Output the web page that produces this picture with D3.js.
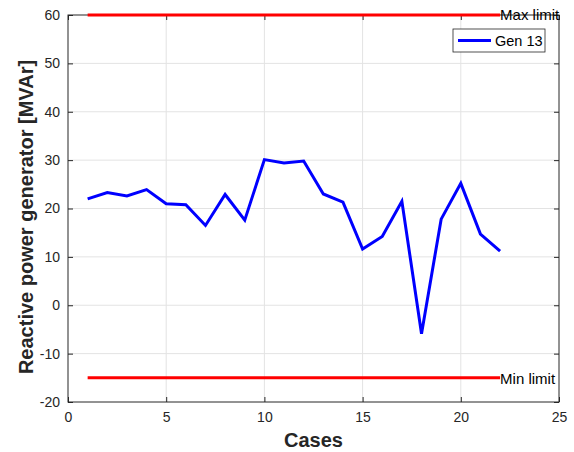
<!DOCTYPE html>
<html><head><meta charset="utf-8">
<script src="https://cdn.jsdelivr.net/npm/d3@7"></script>
<style>body{margin:0;background:#fff}svg{display:block}text{font-family:Arial,"Liberation Sans",sans-serif}</style>
</head><body><svg id="c" width="574" height="452"></svg>
<script>
const cases = d3.range(1, 23);
const gen13 = [22.0, 23.3, 22.6, 23.9, 21.0, 20.8, 16.5, 22.9, 17.6, 30.1, 29.4, 29.8, 23.0, 21.3, 11.6, 14.2, 21.5, -5.9, 17.8, 25.2, 14.7, 11.2];
const maxLimit = 60, minLimit = -15;
const xTicks = [0, 5, 10, 15, 20, 25];
const yTicks = [-20, -10, 0, 10, 20, 30, 40, 50, 60];
const seriesName = "Gen 13";

const svg = d3.select("#c");
const L = 68, R = 559, T = 15, B = 402;
const x = d3.scaleLinear().domain([0, 25]).range([L, R]);
const y = d3.scaleLinear().domain([-20, 60]).range([B, T]);
const axisCol = "#262626";

// grid
svg.append("g").selectAll("line").data(xTicks.slice(1, -1)).join("line")
  .attr("x1", d => x(d)).attr("x2", d => x(d)).attr("y1", T).attr("y2", B)
  .attr("stroke", "#e3e3e3").attr("stroke-width", 1);
svg.append("g").selectAll("line").data(yTicks.slice(1, -1)).join("line")
  .attr("y1", d => y(d)).attr("y2", d => y(d)).attr("x1", L).attr("x2", R)
  .attr("stroke", "#e3e3e3").attr("stroke-width", 1);

// axes
const fmt = d => String(d);
const ax = (g, axis) => { g.call(axis); g.select(".domain").remove();
  g.selectAll("line").attr("stroke", axisCol);
  g.selectAll("text").attr("fill", axisCol).attr("font-size", 14); };
svg.append("g").attr("transform", `translate(0,${B})`)
  .call(g => ax(g, d3.axisBottom(x).tickValues(xTicks).tickSize(-5).tickPadding(10).tickFormat(fmt)));
svg.append("g").attr("transform", `translate(0,${T})`)
  .call(g => ax(g, d3.axisTop(x).tickValues(xTicks).tickSize(-5).tickFormat("")));
svg.append("g").attr("transform", `translate(${L},0)`)
  .call(g => ax(g, d3.axisLeft(y).tickValues(yTicks).tickSize(-5).tickPadding(8).tickFormat(fmt)));
svg.append("g").attr("transform", `translate(${R},0)`)
  .call(g => ax(g, d3.axisRight(y).tickValues(yTicks).tickSize(-5).tickFormat("")));
svg.append("rect").attr("x", L).attr("y", T).attr("width", R - L).attr("height", B - T)
  .attr("fill", "none").attr("stroke", axisCol).attr("stroke-width", 1);

// limits
[maxLimit, minLimit].forEach(v => {
  svg.append("line").attr("x1", x(cases[0])).attr("x2", x(cases[cases.length - 1]))
    .attr("y1", y(v)).attr("y2", y(v)).attr("stroke", "#ff0000").attr("stroke-width", 3);
});
svg.append("text").attr("x", x(cases[cases.length - 1])).attr("y", y(maxLimit) + 5)
  .attr("font-size", 15).attr("fill", "#000").text("Max limit");
svg.append("text").attr("x", x(cases[cases.length - 1])).attr("y", y(minLimit) + 6)
  .attr("font-size", 15).attr("fill", "#000").text("Min limit");

// series
const line = d3.line().x((d, i) => x(cases[i])).y(d => y(d));
svg.append("path").datum(gen13).attr("d", line).attr("fill", "none")
  .attr("stroke", "#0000ff").attr("stroke-width", 3).attr("stroke-linejoin", "miter");

// legend
const lg = svg.append("g").attr("transform", "translate(453,29)");
lg.append("rect").attr("width", 92).attr("height", 23).attr("fill", "#fff").attr("stroke", axisCol).attr("stroke-width", 0.8);
lg.append("line").attr("x1", 5).attr("x2", 38).attr("y1", 11.5).attr("y2", 11.5).attr("stroke", "#0000ff").attr("stroke-width", 3);
lg.append("text").attr("x", 42).attr("y", 17).attr("font-size", 14.5).attr("fill", "#000").text(seriesName);

// labels
svg.append("text").attr("x", (L + R) / 2).attr("y", 447).attr("text-anchor", "middle")
  .attr("font-size", 20).attr("font-weight", "bold").attr("fill", axisCol).text("Cases");
svg.append("text").attr("transform", `translate(33,217) rotate(-90)`).attr("text-anchor", "middle")
  .attr("font-size", 20).attr("font-weight", "bold").attr("fill", axisCol).text("Reactive power generator [MVAr]");
</script></body></html>
